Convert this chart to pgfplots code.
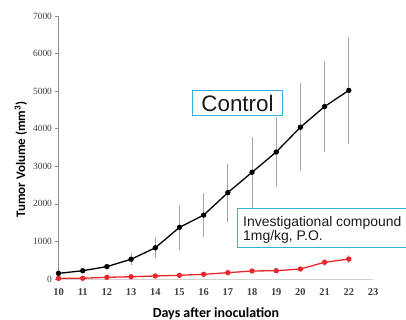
\documentclass[border=0pt]{standalone}
\usepackage{pgfplots}
\pgfplotsset{compat=1.18}
\usepackage{fontspec}
\setmainfont{Liberation Sans}
\newfontfamily\labelfont{Carlito}
\newfontfamily\tickfont{Liberation Serif}
\definecolor{boxblue}{RGB}{53,174,224}
\definecolor{redline}{RGB}{232,40,44}
\pgfplotstableread{
x y e
10 150 40
11 220 70
12 330 60
13 525 160
14 830 280
15 1375 600
16 1700 580
17 2300 770
18 2840 950
19 3380 940
20 4040 1170
21 4590 1200
22 5020 1420
}\control
\pgfplotstableread{
x y e
10 15 10
11 20 10
12 45 15
13 60 15
14 80 20
15 98 20
16 125 25
17 168 30
18 213 30
19 221 35
20 266 45
21 445 100
22 530 100
}\treated
\begin{document}
\begin{tikzpicture}[x=1bp,y=1bp]
\path[use as bounding box] (0,0) rectangle (406,320);
\begin{axis}[
  at={(58.5bp,41bp)}, anchor=south west,
  scale only axis, width=314.5bp, height=263bp,
  xmin=10, xmax=23, ymin=0, ymax=7000,
  axis x line=bottom, axis y line=left,
  x axis line style={-, draw=black!18, line width=0.8bp},
  y axis line style={-, draw=black!45, line width=0.8bp},
  xtick={10,...,23}, ytick={0,1000,...,7000},
  x tick style={draw=none},
  y tick style={draw=black!45, line width=0.6bp},
  major tick length=3bp, tick align=outside,
  /pgf/number format/1000 sep={},
  /pgf/number format/assume math mode=true,
  yticklabel style={font=\tickfont\fontsize{9.5}{10}\selectfont, text=black!75},
  xticklabel style={font=\tickfont\bfseries\fontsize{10.5}{11}\selectfont, text=black!75, yshift=-3bp},
]
\addplot[black, line width=1.3bp, mark=*, mark size=2bp,
  error bars/.cd, y dir=both, y explicit, error mark=none,
  error bar style={black!35, line width=0.8bp}]
  table[x=x, y=y, y error=e] {\control};
\addplot[redline, line width=1.3bp, mark=*, mark size=2bp,
  error bars/.cd, y dir=both, y explicit, error mark=none,
  error bar style={black!30, line width=0.8bp}]
  table[x=x, y=y, y error=e] {\treated};
\end{axis}
\draw[boxblue, line width=1bp] (192.7,204) rectangle (282.3,229);
\node[anchor=base, inner sep=0, text=black!90, font=\fontsize{22.5}{24}\selectfont] at (237.5,208.3) {Control};
\draw[boxblue, line width=1bp] (237.3,72.3) rectangle (412,111.7);
\node[anchor=base west, inner sep=0, text=black!90, font=\fontsize{14}{15}\selectfont] at (243,94) {Investigational compound};
\node[anchor=base west, inner sep=0, text=black!90, font=\fontsize{14}{15}\selectfont] at (243,79.3) {1mg/kg, P.O.};
\node[anchor=base, inner sep=0, font=\labelfont\bfseries\fontsize{14}{16}\selectfont] at (216,3) {Days after inoculation};
\node[rotate=90, anchor=base, inner sep=0, font=\labelfont\bfseries\fontsize{13}{15}\selectfont] at (25,160.5) {Tumor Volume (mm\textsuperscript{3})};
\end{tikzpicture}
\end{document}
